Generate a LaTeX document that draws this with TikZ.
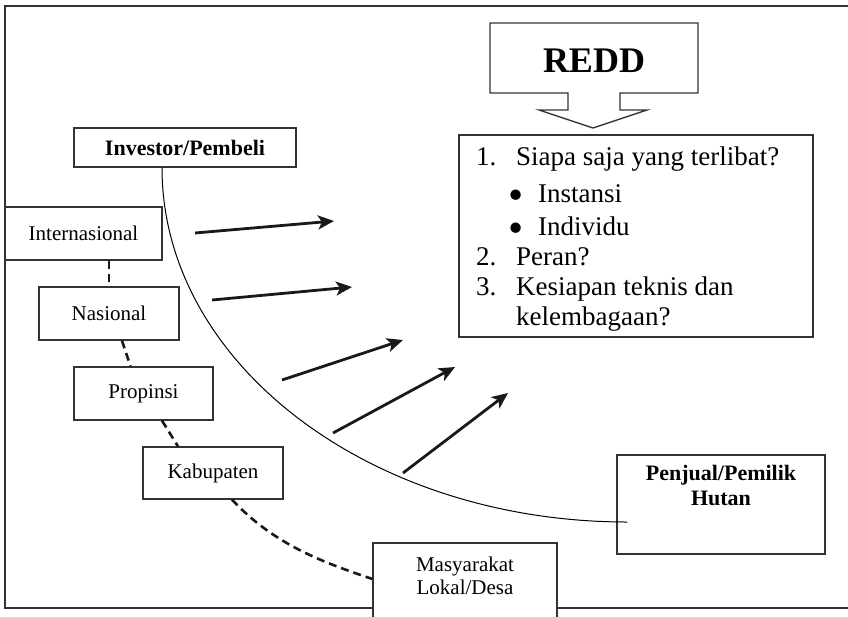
\documentclass[tikz,border=0pt]{standalone}
\usepackage{fontspec}
\setmainfont{Liberation Serif}
\usetikzlibrary{positioning,arrows.meta}
\newcommand{\lvlfont}{\fontsize{21}{23.5}\selectfont}
\newcommand{\headfont}{\fontsize{22}{25}\selectfont\bfseries}
\newcommand{\listfont}{\fontsize{27}{30}\selectfont}
\newcommand{\reddfont}{\fontsize{36}{40}\selectfont\bfseries}
\newcommand{\bigdot}{\raisebox{-7pt}[0pt][0pt]{\scalebox{1.6}{\textbullet}}}

\begin{document}
\begin{tikzpicture}[x=1pt,y=-1pt]
  \tikzstyle{box}=[draw=black!80,line width=1.3pt,fill=white,inner sep=0pt]
  \tikzstyle{tier}=[box,font=\lvlfont]
  \tikzstyle{link}=[line width=2.6pt,dash pattern=on 8pt off 5pt,black!90]
  \tikzstyle{flow}=[line width=2.8pt,black!90,-{Stealth[length=16pt,width=14pt,inset=4pt]}]
  \useasboundingbox (0,0) rectangle (848,616);
  % frame
  \draw[black!80,line width=1.3pt] (5,6) rectangle (860,608);
  % REDD callout
  \draw[black!80,line width=1.3pt,fill=white] (490,23) -- (698,23) -- (698,93) -- (620,93) -- (620,110) -- (647,110) -- (593,128) -- (539,110) -- (568,110) -- (568,93) -- (490,93) -- cycle;
  \node[font=\reddfont] (redd) at (594,61) {REDD};
  \node[box,minimum width=354pt,minimum height=202pt] (qs) at (636,236) {};
  \node[font=\listfont,align=left,inner sep=0pt,anchor=north west] (qlist) at (476,147) {\makebox[40pt][l]{1.}Siapa saja yang terlibat?\\[7pt]
    \hspace*{32pt}\makebox[30pt][l]{\bigdot}Instansi\\[3pt]
    \hspace*{32pt}\makebox[30pt][l]{\bigdot}Individu\\
    \makebox[40pt][l]{2.}Peran?\\
    \makebox[40pt][l]{3.}Kesiapan teknis dan\\
    \hspace*{40pt}kelembagaan?};
  % levels
  \node[box,font=\headfont,minimum width=222pt,minimum height=39pt] (invest) at (185,147.5) {Investor/Pembeli};
  \node[tier,minimum width=157pt,minimum height=53pt] (intl) at (83.5,233.5) {Internasional};
  \node[tier,minimum width=140pt,minimum height=53pt] (nas) at (109,313.5) {Nasional};
  \node[tier,minimum width=139pt,minimum height=53pt] (prop) at (143.5,393.5) {Propinsi};
  \node[tier,minimum width=140pt,minimum height=52pt] (kab) at (213,473) {Kabupaten};
  \node[box,minimum width=184pt,minimum height=80pt] (desa) at (465,583) {};
  \node[font=\lvlfont,align=center,inner sep=0pt,below=14pt of desa.north] (desatxt) {Masyarakat\\Lokal/Desa};
  \node[box,fill=none,minimum width=208pt,minimum height=99pt] (seller) at (721,504.5) {};
  \node[font=\headfont,align=center,inner sep=0pt,below=11pt of seller.north] (sellertxt) {Penjual/Pemilik\\Hutan};
  % dashed chain
  \draw[link] (nas.north |- intl.south) -- (nas.north);
  \draw[link] ([xshift=13pt]nas.south) -- ([xshift=-13pt]prop.north);
  \draw[link] ([xshift=18.5pt]prop.south) -- ([xshift=-35pt]kab.north);
  \draw[link] ([xshift=19pt]kab.south) .. controls +(43,46) and +(-47,-16) .. ([yshift=4pt]desa.west);
  % buyer to seller
  \draw[black,line width=1pt] ([xshift=-23pt]invest.south) .. controls +(0,196) and +(-257,0) .. ([xshift=11pt,yshift=-17.5pt]seller.west);
  % arrows
  \coordinate (p1) at (195,233); \coordinate (q1) at (334,221);
  \coordinate (p2) at (212,300); \coordinate (q2) at (352,287);
  \coordinate (p3) at (282,380); \coordinate (q3) at (403,340);
  \coordinate (p4) at (333,433); \coordinate (q4) at (455,367);
  \coordinate (p5) at (403,473); \coordinate (q5) at (508,393);
  \foreach \i in {1,...,5} \draw[flow] (p\i) -- (q\i);
\end{tikzpicture}
\end{document}
